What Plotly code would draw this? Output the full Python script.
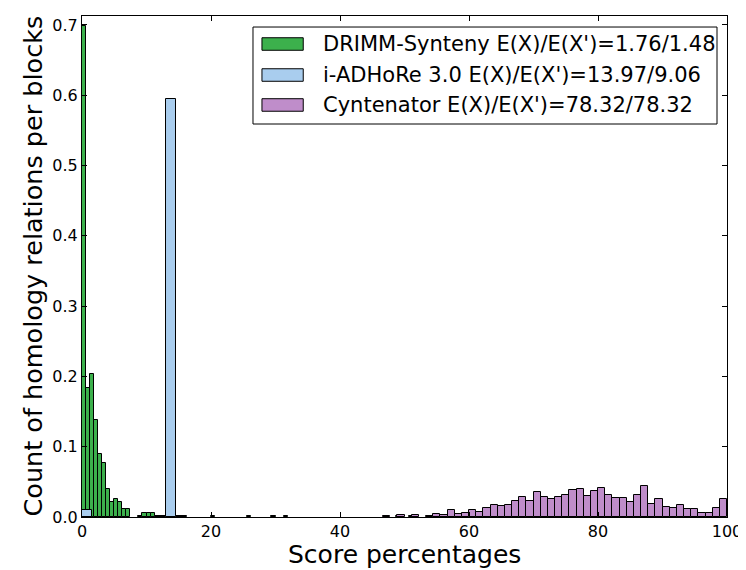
import plotly.graph_objects as go

# ---------------- data ----------------
series_names = [
    "DRIMM-Synteny E(X)/E(X')=1.76/1.48",
    "i-ADHoRe 3.0 E(X)/E(X')=13.97/9.06",
    "Cyntenator E(X)/E(X')=78.32/78.32",
]
series_colors = ["#3cb04c", "#a9cdee", "#bf8dca"]

# DRIMM-Synteny histogram: bin width and (bin index, height)
green_bin_width = 0.625
green_bins = [0, 1, 2, 3, 4, 5, 6, 7, 8, 9, 10, 11, 14, 15, 16, 17, 18,
              24, 32, 41, 47, 50, 78, 81]
green_vals = [0.698, 0.184, 0.2035, 0.138, 0.0895, 0.077, 0.040, 0.021,
              0.026, 0.021, 0.011, 0.011, 0.002, 0.005, 0.005, 0.005, 0.001,
              0.002, 0.0015, 0.002, 0.002, 0.002, 0.0015, 0.0015]

# i-ADHoRe 3.0 histogram
blue_bin_width = 1.625
blue_bins = [0, 7, 8, 9]
blue_vals = [0.010, 0.0015, 0.594, 0.002]

# Cyntenator histogram
purple_bin_width = 100 / 90
purple_bins = list(range(42, 90))
purple_vals = [0.001, 0.0, 0.003, 0.0, 0.003, 0.0, 0.001, 0.004, 0.003, 0.010,
               0.004, 0.006, 0.010, 0.007, 0.0123, 0.017, 0.0156, 0.017, 0.0228, 0.029,
               0.023, 0.035, 0.029, 0.0256, 0.029, 0.032, 0.039, 0.040, 0.030, 0.0375,
               0.0417, 0.032, 0.0275, 0.0275, 0.0213, 0.032, 0.044, 0.0185, 0.0256, 0.0147,
               0.0123, 0.0166, 0.011, 0.011, 0.005, 0.005, 0.0123, 0.0256]

x_ticks = [0, 20, 40, 60, 80, 100]
y_ticks = [0.0, 0.1, 0.2, 0.3, 0.4, 0.5, 0.6, 0.7]
x_title = "Score percentages"
y_title = "Count of homology relations per blocks"

FONT = "DejaVu Sans"

fig = go.Figure()

hists = [
    (green_bin_width, green_bins, green_vals),
    (blue_bin_width, blue_bins, blue_vals),
    (purple_bin_width, purple_bins, purple_vals),
]
for (w, bins, vals), name, color in zip(hists, series_names, series_colors):
    xs, ys = [], []
    for b, v in zip(bins, vals):
        if v > 0:
            xs.append((b + 0.5) * w)
            ys.append(v)
    fig.add_trace(go.Bar(
        x=xs, y=ys, width=w, name=name,
        marker=dict(color=color, line=dict(color="black", width=1)),
        showlegend=False,
    ))

# ---------------- custom matplotlib-style legend ----------------
shapes = []
annotations = []
shapes.append(dict(type="rect", xref="paper", yref="paper",
                   x0=0.2651, x1=0.9845, y0=0.7844, y1=0.978,
                   line=dict(color="black", width=1), fillcolor="white", layer="above"))
row_y = [0.9441, 0.8822, 0.8224]
for ry, name, color in zip(row_y, series_names, series_colors):
    shapes.append(dict(type="rect", xref="paper", yref="paper",
                       x0=0.279, x1=0.343, y0=ry - 0.0125, y1=ry + 0.0125,
                       line=dict(color="black", width=1), fillcolor=color, layer="above"))
    annotations.append(dict(xref="paper", yref="paper", x=0.3705, y=ry,
                            xanchor="left", yanchor="middle", showarrow=False,
                            text=name, font=dict(family=FONT, size=21, color="black")))

# axis titles
annotations.append(dict(xref="paper", yref="paper", x=0.5, y=0, xanchor="center",
                        yanchor="middle", yshift=-37, showarrow=False, text=x_title,
                        font=dict(family=FONT, size=25, color="black")))
annotations.append(dict(xref="paper", yref="paper", x=0, y=0.5, xanchor="center",
                        yanchor="middle", xshift=-50, textangle=-90, showarrow=False,
                        text=y_title, font=dict(family=FONT, size=25.5, color="black")))

# the page body adds an 8px offset at the top-left, so the figure is 8px smaller
fig.update_layout(
    width=738, height=562,
    margin=dict(l=74, r=11, t=8, b=45),
    barmode="overlay",
    bargap=0,
    plot_bgcolor="white",
    paper_bgcolor="white",
    font=dict(family=FONT, size=16, color="black"),
    shapes=shapes,
    annotations=annotations,
    xaxis=dict(
        range=[0, 100], tickvals=x_ticks, ticktext=[str(t) for t in x_ticks],
        ticks="inside", ticklen=5, tickcolor="black",
        showline=True, linecolor="black", linewidth=1, mirror="allticks",
        showgrid=False, zeroline=False, automargin=False,
        tickfont=dict(family=FONT, size=16),
    ),
    yaxis=dict(
        range=[0, 0.7127], tickvals=y_ticks, ticktext=[f"{t:.1f}" for t in y_ticks],
        ticks="inside", ticklen=5, tickcolor="black",
        showline=True, linecolor="black", linewidth=1, mirror="allticks",
        showgrid=False, zeroline=False, automargin=False,
        tickfont=dict(family=FONT, size=16),
    ),
)
fig.update_layout(margin=dict(l=74, r=19, t=8, b=53))

fig.write_html("out.html")
